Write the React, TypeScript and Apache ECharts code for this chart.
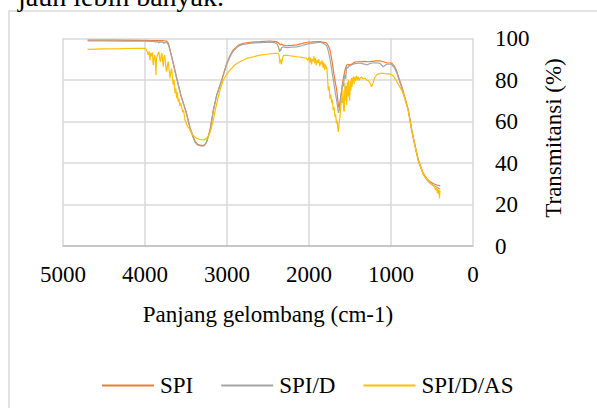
import React, { useEffect, useRef } from "react";
import * as echarts from "echarts";

const SERIES_NAMES = ["SPI", "SPI/D", "SPI/D/AS"];
const X_TICKS = [0, 1000, 2000, 3000, 4000, 5000];
const Y_TICKS = [0, 20, 40, 60, 80, 100];

const SPI: [number, number][] = [
  [4700, 99.2], [4400, 99.2], [4100, 99.1], [3900, 99], [3800, 99], [3740, 98.8], [3715, 97.8],
  [3700, 95.5], [3660, 89], [3610, 80.5], [3560, 72.5], [3500, 65], [3450, 57], [3420, 53.5],
  [3390, 50.5], [3360, 49], [3320, 48.5], [3280, 48.5], [3250, 50], [3207, 56], [3167, 65.5],
  [3126, 72.8], [3065, 80], [3004, 88], [2960, 92], [2923, 94.5], [2860, 96.8], [2801, 97.7],
  [2700, 98.3], [2598, 98.5], [2476, 98.8], [2400, 98.5], [2370, 97.8], [2354, 97], [2340, 97.3],
  [2310, 96.8], [2272, 96.5], [2210, 96.7], [2150, 96.9], [2090, 97.5], [2028, 98.2], [1950, 98.4],
  [1866, 98.5], [1800, 98], [1784, 97.7], [1765, 96.5], [1744, 94.5], [1723, 90], [1703, 84.8],
  [1680, 79], [1662, 75.2], [1648, 70], [1640, 67.5], [1634, 66.5], [1625, 68.5], [1613, 72],
  [1600, 75.5], [1589, 79], [1575, 82], [1561, 84.8], [1540, 87.2], [1520, 87.5], [1500, 87.3],
  [1470, 87.8], [1450, 88.5], [1420, 88.8], [1378, 88.8], [1330, 89], [1280, 88.8], [1230, 89],
  [1180, 89.2], [1134, 89.2], [1090, 88.8], [1053, 88.3], [1012, 88.2], [992, 88.1], [960, 86.7],
  [930, 84.3], [911, 81.8], [870, 77], [829, 71.4], [789, 65.7], [748, 56.2], [705, 48.2],
  [667, 41.6], [640, 38.6], [606, 35], [565, 32.6], [524, 30.9], [480, 30], [443, 29.4],
  [420, 29.2], [400, 29],
];

const SPI_D: [number, number][] = [
  [4700, 98.8], [4500, 98.8], [4200, 98.7], [4000, 98.7], [3900, 98.6], [3860, 98.2], [3850, 98.7],
  [3830, 97.8], [3820, 98.6], [3800, 98.1], [3790, 98.5], [3770, 97.6], [3755, 98.3], [3740, 98.2],
  [3715, 97], [3700, 95], [3660, 88.5], [3610, 80], [3560, 72], [3500, 64.5], [3450, 56.5],
  [3420, 53], [3390, 50], [3360, 48.7], [3320, 48.2], [3280, 48.3], [3250, 49.8], [3207, 55.5],
  [3167, 65], [3126, 72.5], [3065, 79.6], [3004, 87.5], [2960, 91.5], [2923, 94], [2860, 96.3],
  [2801, 97.2], [2700, 97.8], [2598, 98], [2476, 98.2], [2420, 98], [2390, 97.5], [2370, 95.5],
  [2360, 93.6], [2352, 95], [2345, 94], [2335, 95.6], [2310, 96], [2272, 95.6], [2210, 95.8],
  [2150, 96], [2090, 96.5], [2028, 97.3], [1950, 97.8], [1866, 98.2], [1830, 97.8], [1800, 97],
  [1784, 96.5], [1765, 94], [1744, 90], [1723, 85], [1703, 80], [1680, 74], [1662, 70],
  [1648, 66], [1640, 64.2], [1634, 64], [1628, 66], [1620, 68.5], [1613, 71.5], [1600, 75],
  [1589, 78.5], [1578, 77], [1570, 81.5], [1561, 82.5], [1552, 80.5], [1545, 84.5], [1540, 86.2],
  [1525, 85.8], [1510, 87], [1500, 86.8], [1480, 87.3], [1450, 87.8], [1420, 88], [1378, 88.2],
  [1340, 87.8], [1310, 87.5], [1296, 87.2], [1270, 87.7], [1230, 88.2], [1180, 88.3], [1134, 88],
  [1110, 87], [1094, 86.4], [1075, 87], [1053, 87.6], [1012, 87.6], [992, 87.5], [960, 86],
  [930, 83.5], [911, 81.2], [870, 76.4], [829, 70.8], [789, 65.2], [748, 55.6], [705, 47.6],
  [667, 41], [640, 38], [606, 34.4], [565, 32], [524, 30.2], [480, 29.2], [443, 28.4],
  [420, 27.8], [400, 27.5],
];

const SPI_D_AS: [number, number][] = [
  [4700, 94.8], [4500, 95], [4300, 95.1], [4100, 95.3], [4000, 95.2], [3990, 95], [3980, 94.2],
  [3970, 93.5], [3960, 92], [3950, 93.8], [3940, 89.6], [3930, 93], [3920, 91.5], [3910, 93.3],
  [3900, 87.2], [3890, 90.5], [3880, 92], [3870, 86], [3866, 82.4], [3860, 90], [3850, 91.7],
  [3840, 93], [3830, 93.6], [3820, 90], [3810, 88.8], [3800, 92.5], [3793, 92.9], [3785, 89],
  [3777, 86.4], [3770, 90.5], [3760, 92], [3750, 88], [3742, 85], [3735, 84], [3725, 87.5],
  [3716, 88.8], [3705, 84.5], [3695, 80.8], [3685, 84], [3675, 85.6], [3665, 81], [3655, 77.6],
  [3645, 80], [3634, 73.6], [3625, 76], [3614, 71.2], [3605, 74], [3595, 69.5], [3585, 71],
  [3575, 67.5], [3565, 69], [3553, 67], [3540, 64.5], [3530, 65.5], [3512, 60.7], [3495, 59],
  [3480, 57.5], [3465, 57], [3451, 55.9], [3430, 54], [3400, 52.8], [3370, 51.9], [3330, 51.3],
  [3289, 51.1], [3260, 51.5], [3228, 52.7], [3200, 55.5], [3167, 60.7], [3140, 66], [3106, 72],
  [3075, 76.5], [3045, 80], [3000, 83], [2963, 84.8], [2900, 87.5], [2841, 88.8], [2760, 90.4],
  [2679, 91.2], [2598, 92], [2516, 92.4], [2420, 92.8], [2378, 92.9], [2365, 92], [2355, 88],
  [2345, 90], [2335, 87.5], [2325, 90.5], [2310, 91.8], [2293, 92], [2250, 91.8], [2200, 91.5],
  [2150, 91.2], [2100, 91], [2050, 90.6], [2028, 90.4], [2012, 89.5], [2000, 91], [1990, 88.5],
  [1980, 90.8], [1970, 87.5], [1960, 90.2], [1950, 89], [1940, 91.5], [1930, 88], [1920, 90.5],
  [1910, 87], [1900, 89.5], [1890, 88.2], [1880, 90], [1870, 86.5], [1860, 88.8], [1850, 87.5],
  [1840, 89.5], [1830, 86], [1820, 88.5], [1810, 85], [1800, 87.5], [1790, 85.5], [1784, 86.4],
  [1775, 82], [1765, 75], [1755, 77], [1745, 71], [1735, 73], [1723, 68.8], [1715, 70.5],
  [1705, 65.5], [1695, 67], [1683, 62.3], [1675, 63.5], [1665, 59], [1655, 60.5], [1648, 56.5],
  [1642, 55], [1636, 57.5], [1630, 60], [1622, 62], [1612, 67], [1601, 72], [1592, 69],
  [1585, 75], [1578, 66], [1570, 64.7], [1562, 78.4], [1555, 70], [1548, 77], [1540, 68],
  [1532, 79], [1525, 72], [1520, 80], [1512, 74], [1505, 70], [1498, 79.5], [1490, 75],
  [1482, 81], [1475, 76.5], [1468, 80.5], [1459, 81.6], [1450, 78], [1440, 81.5], [1430, 79.5],
  [1420, 82], [1410, 80], [1400, 81.5], [1390, 79.8], [1378, 80.8], [1360, 81.5], [1340, 80.5],
  [1320, 81], [1296, 80], [1270, 79.5], [1250, 78], [1235, 76.8], [1220, 78.5], [1200, 81],
  [1175, 82.4], [1150, 83], [1120, 83.2], [1094, 83.2], [1060, 83], [1030, 83], [1012, 82.9],
  [990, 82.5], [970, 81.8], [951, 80.8], [920, 78.5], [890, 76.5], [860, 74.3], [829, 70.8],
  [789, 65.2], [748, 55.8], [705, 47.8], [667, 41.2], [640, 38.2], [606, 34.6], [565, 32.2],
  [524, 30.3], [490, 29.2], [470, 28.5], [455, 27], [445, 28], [435, 25.5], [428, 27.5],
  [420, 24.8], [414, 27], [408, 23], [404, 26.5], [400, 26],
];

const COLORS = ["#ED7D31", "#A5A5A5", "#FFC000"];
const FONT = "'Liberation Serif', 'Times New Roman', serif";

export default function App() {
  const ref = useRef<HTMLDivElement>(null);
  useEffect(() => {
    if (!ref.current) return;
    const chart = echarts.init(ref.current, undefined, { renderer: "svg" });
    const datasets = [SPI, SPI_D, SPI_D_AS];
    chart.setOption({
      animation: false,
      backgroundColor: "#ffffff",
      textStyle: { fontFamily: FONT, color: "#000" },
      grid: { left: 63, right: 124, top: 38.5, bottom: 162 },
      legend: {
        left: 97,
        top: 369,
        itemWidth: 52,
        itemHeight: 2,
        itemGap: 28,
        icon: "rect",
        textStyle: { fontFamily: FONT, fontSize: 23, color: "#000", padding: [0, 0, 0, 1] },
        data: SERIES_NAMES,
      },
      xAxis: {
        type: "value",
        inverse: true,
        min: X_TICKS[0],
        max: X_TICKS[X_TICKS.length - 1],
        interval: 1000,
        axisLine: { show: true, lineStyle: { color: "#bfbfbf", width: 1.5 } },
        axisTick: { show: false },
        splitLine: { show: true, lineStyle: { color: "#d9d9d9", width: 1.5 } },
        axisLabel: {
          fontFamily: FONT,
          fontSize: 23,
          color: "#000",
          margin: 17,
          formatter: (v: number) => String(v),
        },
      },
      yAxis: {
        type: "value",
        position: "right",
        min: Y_TICKS[0],
        max: Y_TICKS[Y_TICKS.length - 1],
        interval: 20,
        axisLine: { show: false },
        axisTick: { show: false },
        splitLine: { show: true, lineStyle: { color: "#d9d9d9", width: 1.5 } },
        axisLabel: {
          fontFamily: FONT,
          fontSize: 23,
          color: "#000",
          margin: 22,
          formatter: (v: number) => String(v),
        },
      },
      graphic: [
        {
          type: "rect",
          z: -10,
          shape: { x: 9, y: 11, width: 610, height: 420 },
          style: { fill: "none", stroke: "#d9d9d9", lineWidth: 1.5 },
        },
        {
          type: "text",
          x: 18,
          y: 10,
          style: {
            text: "jauh lebih banyak.",
            fontFamily: FONT,
            fontSize: 28,
            fill: "#000",
            textAlign: "left",
            textVerticalAlign: "bottom",
          },
        },
        {
          type: "text",
          x: 553,
          y: 138,
          rotation: Math.PI / 2,
          style: {
            text: "Transmitansi (%)",
            fontFamily: FONT,
            fontSize: 23,
            fill: "#000",
            textAlign: "center",
            textVerticalAlign: "middle",
          },
        },
        {
          type: "text",
          x: 268,
          y: 314,
          style: {
            text: "Panjang gelombang (cm-1)",
            fontFamily: FONT,
            fontSize: 23,
            fill: "#000",
            textAlign: "center",
            textVerticalAlign: "middle",
          },
        },
      ],
      series: datasets.map((d, i) => ({
        name: SERIES_NAMES[i],
        type: "line",
        data: d,
        symbol: "none",
        showSymbol: false,
        lineStyle: { color: COLORS[i], width: 1.2 },
        itemStyle: { color: COLORS[i] },
        z: 2 + i,
      })),
    });
    return () => chart.dispose();
  }, []);
  return (
    <div
      ref={ref}
      style={{ position: "fixed", left: 0, top: 0, width: 597, height: 408 }}
    />
  );
}
